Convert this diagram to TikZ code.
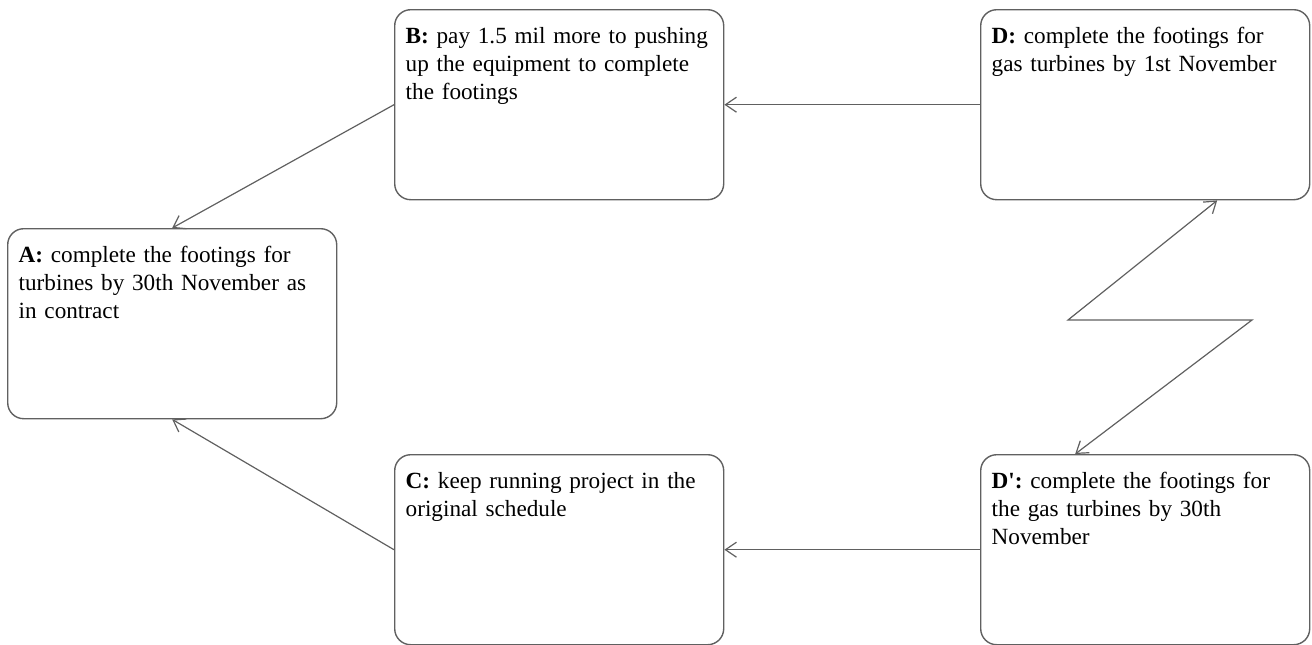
\documentclass[tikz,border=0pt]{standalone}
\usepackage{fontspec}
\setmainfont{Liberation Serif}
\usetikzlibrary{arrows.meta}
\definecolor{edgegray}{RGB}{96,96,96}
\tikzset{
  stage/.style={draw=edgegray, line width=0.7pt, rounded corners=8pt, anchor=north west,
    text width=153.5pt, inner xsep=5.5pt, inner ysep=0pt, align=left,
    text height=17pt, text depth=78pt, font=\fontsize{11.6}{14}\selectfont},
  link/.style={draw=edgegray, line width=0.6pt, ->},
  >={Straight Barb[length=5.5pt,width=7.5pt]}
}
\begin{document}
\begin{tikzpicture}[x=0.5pt,y=-0.5pt]
  \useasboundingbox (0,0) rectangle (1312,644);

  \node[stage] (b) at (394,9) {\textbf{B:} pay 1.5 mil more to pushing\\ up the equipment to complete\\ the footings};
  \node[stage] (d) at (980,9) {\textbf{D:} complete the footings for\\ gas turbines by 1st November};
  \node[stage] (a) at (7,228) {\textbf{A:} complete the footings for\\ turbines by 30th November as\\ in contract};
  \node[stage] (c) at (394,454) {\textbf{C:} keep running project in the\\ original schedule};
  \node[stage] (dd) at (980,454) {\textbf{D\textquotesingle:} complete the footings for\\ the gas turbines by 30th\\ November};

  % zigzag between D and D'
  \coordinate (zig1) at (1068,320);
  \coordinate (zig2) at (1252,320);

  \draw[link] (d.west) -- (b.east);
  \draw[link] (b.west) -- (a.north);
  \draw[link] (c.west) -- (a.south);
  \draw[link] (dd.west) -- (c.east);
  \draw[link, <->] ([xshift=36pt]d.south) -- (zig1) -- (zig2) -- ([xshift=-35pt]dd.north);
\end{tikzpicture}
\end{document}
